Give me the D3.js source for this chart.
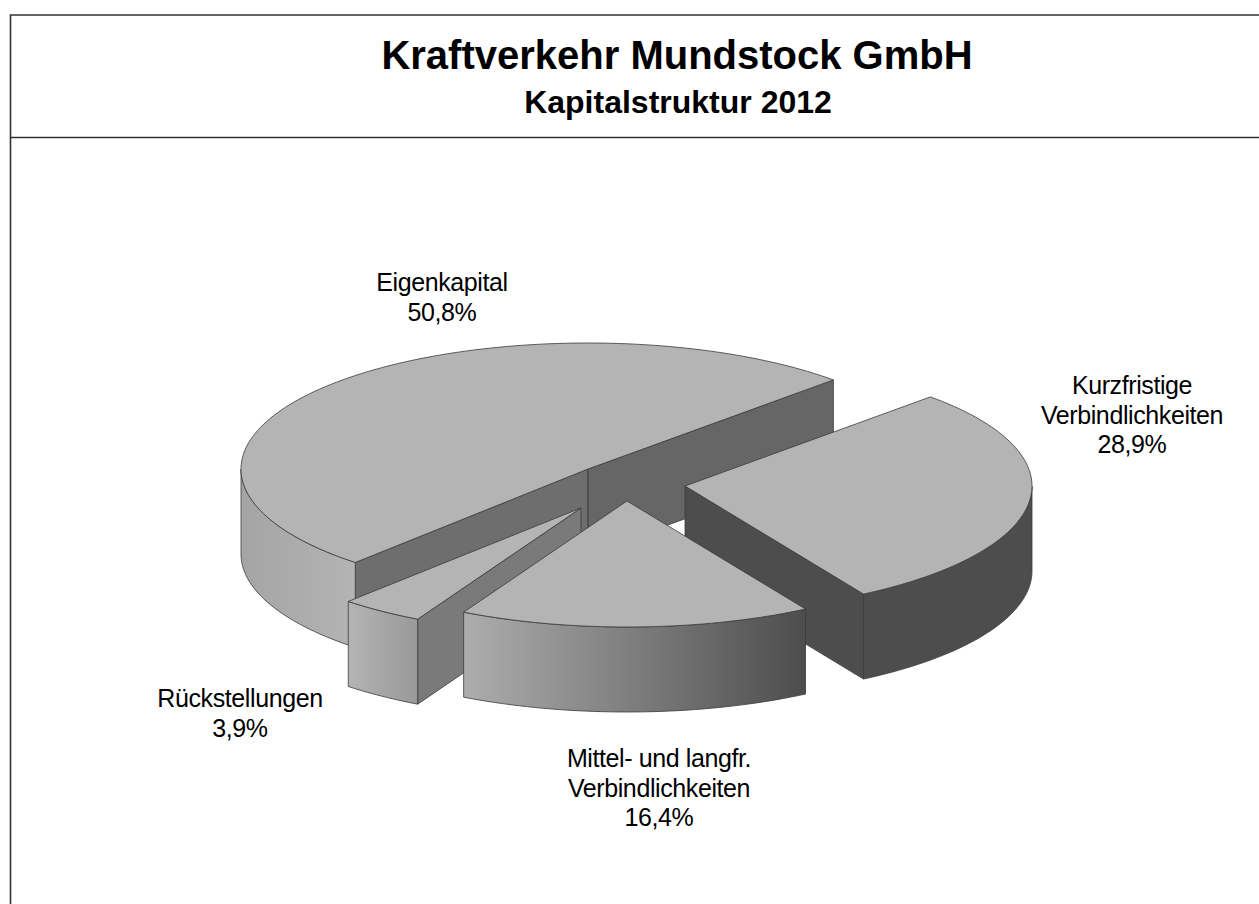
<!DOCTYPE html>
<html>
<head>
<meta charset="utf-8">
<style>
  body { margin: 0; background: #fff; }
  text { font-family: "Liberation Sans", Arial, sans-serif; fill: #000; }
</style>
<script src="https://cdn.jsdelivr.net/npm/d3@7"></script>
</head>
<body>
<div id="display"></div>
<script>
// values, clockwise from the upper right cut
var categories = ["Kurzfristige Verbindlichkeiten", "Mittel- und langfr. Verbindlichkeiten", "Rückstellungen", "Eigenkapital"];
var shares = [28.9, 16.4, 3.9, 50.8];
var labelLines = [
  ["Kurzfristige", "Verbindlichkeiten", "28,9%"],
  ["Mittel- und langfr.", "Verbindlichkeiten", "16,4%"],
  ["Rückstellungen", "3,9%"],
  ["Eigenkapital", "50,8%"]
];

// drawing setup, same order as categories
var apexX = [685, 627, 581, 588];
var apexY = [486, 501, 508, 469];
var labelX = [1132, 659, 240, 442];
var labelY = [394, 767, 707, 291];
var wallFrom = ["#4d4d4d", "#adadad", "#b4b4b4", "#a4a4a4"];
var wallTo = ["#4d4d4d", "#4d4d4d", "#999999", "#b4b4b4"];
var startFace = [null, null, "#7a7a7a", "#6e6e6e"];
var endFace = ["#4d4d4d", null, null, "#666666"];
var drawOrder = [3, 0, 2, 1];

var width = 1259, height = 904;
var rx = 347, ry = 126, depth = 85;
var topFill = "#b4b4b4", edge = "#3a3a3a";

var svg = d3.select("#display").append("svg")
  .attr("width", width)
  .attr("height", height)
  .style("display", "block");

// frame runs off the right and bottom of the page
svg.append("path")
  .attr("d", "M" + (width + 5) + ",15H10.5V" + (height + 5))
  .attr("fill", "none")
  .attr("stroke", "#333")
  .attr("stroke-width", 1.6);
svg.append("line")
  .attr("x1", 10).attr("x2", width)
  .attr("y1", 137.5).attr("y2", 137.5)
  .attr("stroke", "#333")
  .attr("stroke-width", 1.6);

svg.append("text")
  .attr("x", 677).attr("y", 69)
  .attr("text-anchor", "middle")
  .attr("font-weight", "bold")
  .attr("font-size", 40)
  .text("Kraftverkehr Mundstock GmbH");
svg.append("text")
  .attr("x", 678).attr("y", 113)
  .attr("text-anchor", "middle")
  .attr("font-weight", "bold")
  .attr("font-size", 32)
  .text("Kapitalstruktur 2012");

var pie = d3.pie().sort(null)
  .startAngle(Math.PI / 4)
  .endAngle(Math.PI / 4 + 2 * Math.PI);
var slices = pie(shares);

var defs = svg.append("defs");
wallFrom.forEach(function (c, i) {
  var g = defs.append("linearGradient").attr("id", "wall" + i);
  g.append("stop").attr("offset", "0%").attr("stop-color", c);
  g.append("stop").attr("offset", "100%").attr("stop-color", wallTo[i]);
});

var line = d3.line();

// rim point of slice i at pie angle a, dropped by dz
function rim(i, a, dz) {
  return [apexX[i] + rx * Math.sin(a), apexY[i] - ry * Math.cos(a) + dz];
}

function arcPoints(i, a0, a1, dz) {
  var n = Math.max(2, Math.ceil(Math.abs(a1 - a0) * 40));
  return d3.range(n + 1).map(function (k) {
    return rim(i, a0 + (a1 - a0) * k / n, dz);
  });
}

function facePath(i, a) {
  var p = rim(i, a, 0), q = rim(i, a, depth);
  return line([[apexX[i], apexY[i]], p, q, [apexX[i], apexY[i] + depth]]) + "Z";
}

function drawSlice(i) {
  var s = slices[i];
  var g = svg.append("g").attr("class", "slice").attr("data-name", categories[i]);

  // only the front half of the rim has a visible wall
  var a0 = Math.max(s.startAngle, Math.PI / 2);
  var a1 = Math.min(s.endAngle, 3 * Math.PI / 2);

  if (startFace[i]) {
    g.append("path").attr("d", facePath(i, s.startAngle))
      .attr("fill", startFace[i]).attr("stroke", edge).attr("stroke-width", 0.8);
  }
  if (endFace[i]) {
    g.append("path").attr("d", facePath(i, s.endAngle))
      .attr("fill", endFace[i]).attr("stroke", edge).attr("stroke-width", 0.8);
  }
  if (a1 > a0) {
    var wall = arcPoints(i, a0, a1, 0).concat(arcPoints(i, a1, a0, depth));
    g.append("path").attr("d", line(wall) + "Z")
      .attr("fill", "url(#wall" + i + ")")
      .attr("stroke", edge).attr("stroke-width", 0.8);
  }
  var top = [[apexX[i], apexY[i]]].concat(arcPoints(i, s.startAngle, s.endAngle, 0));
  g.append("path").attr("d", line(top) + "Z")
    .attr("fill", topFill)
    .attr("stroke", edge).attr("stroke-width", 0.8);
}

drawOrder.forEach(drawSlice);

// labels
labelLines.forEach(function (lines, i) {
  var t = svg.append("text")
    .attr("text-anchor", "middle")
    .attr("font-size", 25)
    .attr("letter-spacing", -0.4);
  lines.forEach(function (l, k) {
    t.append("tspan")
      .attr("x", labelX[i])
      .attr("y", labelY[i] + k * 29.5)
      .text(l);
  });
});
</script>
</body>
</html>
